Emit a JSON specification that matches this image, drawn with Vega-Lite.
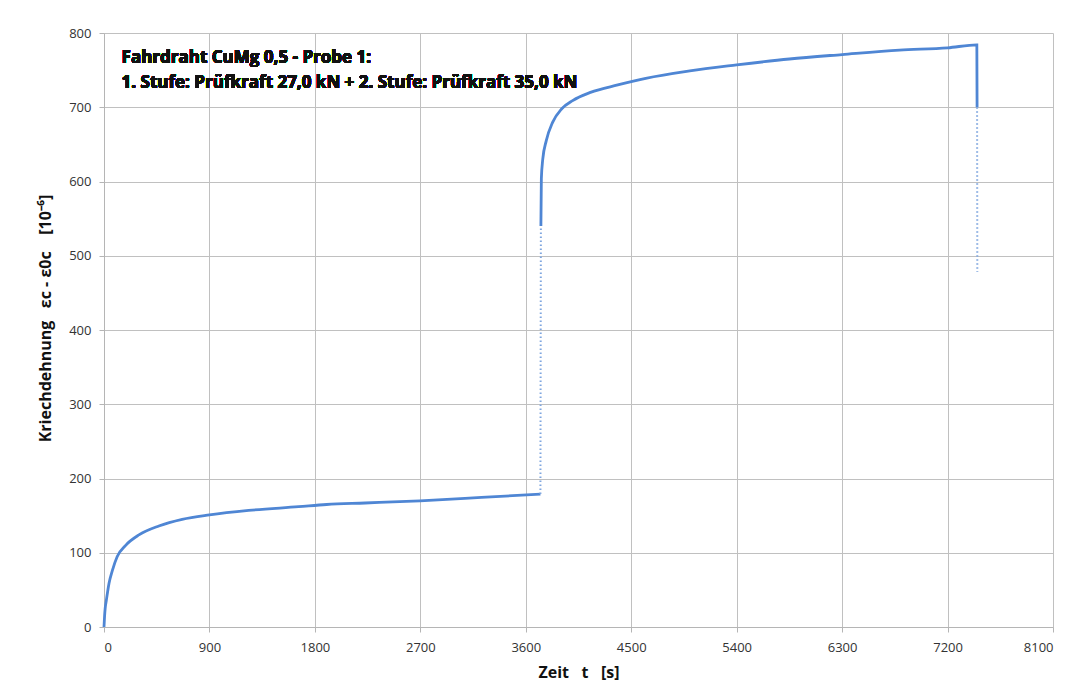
{
  "$schema": "https://vega.github.io/schema/vega-lite/v6.json",
  "autosize": {"type": "none"},
  "padding": {"left": 104, "top": 33, "right": 21, "bottom": 73},
  "width": 949,
  "height": 594,
  "background": "white",
  "config": {
    "font": "Open Sans",
    "view": {"stroke": null},
    "axis": {
      "gridColor": "#c0c0c0",
      "gridWidth": 1,
      "domainColor": "#b5b5b5",
      "tickColor": "#b5b5b5",
      "tickSize": 5,
      "labelFont": "Open Sans",
      "labelFontSize": 13,
      "labelColor": "#333333",
      "titleFont": "Open Sans",
      "titleFontSize": 16,
      "titleFontWeight": "bold",
      "titleColor": "#111111"
    }
  },
  "data": {
    "values": [
      {"part": "s1", "t": 0, "e": 0},
      {"part": "s1", "t": 5, "e": 15},
      {"part": "s1", "t": 10, "e": 25},
      {"part": "s1", "t": 20, "e": 36},
      {"part": "s1", "t": 43, "e": 59},
      {"part": "s1", "t": 71, "e": 76},
      {"part": "s1", "t": 113, "e": 95},
      {"part": "s1", "t": 185, "e": 110},
      {"part": "s1", "t": 298, "e": 124},
      {"part": "s1", "t": 468, "e": 136},
      {"part": "s1", "t": 667, "e": 145},
      {"part": "s1", "t": 900, "e": 151},
      {"part": "s1", "t": 1235, "e": 157},
      {"part": "s1", "t": 1661, "e": 162},
      {"part": "s1", "t": 1900, "e": 165},
      {"part": "s1", "t": 2229, "e": 167},
      {"part": "s1", "t": 2697, "e": 170},
      {"part": "s1", "t": 3222, "e": 174.5},
      {"part": "s1", "t": 3725, "e": 179},
      {"part": "j1", "t": 3725, "e": 179},
      {"part": "j1", "t": 3729, "e": 540},
      {"part": "s2", "t": 3729, "e": 540},
      {"part": "s2", "t": 3733, "e": 604},
      {"part": "s2", "t": 3745, "e": 630},
      {"part": "s2", "t": 3775, "e": 655},
      {"part": "s2", "t": 3830, "e": 680},
      {"part": "s2", "t": 3907, "e": 698},
      {"part": "s2", "t": 4000, "e": 709},
      {"part": "s2", "t": 4152, "e": 720},
      {"part": "s2", "t": 4385, "e": 730},
      {"part": "s2", "t": 4624, "e": 739},
      {"part": "s2", "t": 5000, "e": 749},
      {"part": "s2", "t": 5400, "e": 757},
      {"part": "s2", "t": 5850, "e": 765},
      {"part": "s2", "t": 6300, "e": 771},
      {"part": "s2", "t": 6790, "e": 777},
      {"part": "s2", "t": 7200, "e": 780},
      {"part": "s2", "t": 7450, "e": 784},
      {"part": "s2", "t": 7452, "e": 700},
      {"part": "d2", "t": 7452, "e": 700},
      {"part": "d2", "t": 7454, "e": 478}
    ]
  },
  "layer": [
    {
      "transform": [{"filter": "datum.part === 's1' || datum.part === 's2'"}],
      "mark": {"type": "line", "color": "#4f86d4", "strokeWidth": 2.8, "interpolate": "monotone"},
      "encoding": {
        "x": {
          "field": "t", "type": "quantitative",
          "scale": {"domain": [0, 8100], "nice": false},
          "axis": {"values": [0, 900, 1800, 2700, 3600, 4500, 5400, 6300, 7200, 8100], "format": "d", "labelPadding": 9, "title": "Zeit\u00a0\u00a0\u00a0t\u00a0\u00a0\u00a0[s]", "titlePadding": 10}
        },
        "y": {
          "field": "e", "type": "quantitative",
          "scale": {"domain": [0, 800], "nice": false},
          "axis": {"values": [0, 100, 200, 300, 400, 500, 600, 700, 800], "format": "d", "labelPadding": 8, "title": "Kriechdehnung\u00a0\u00a0\u00a0εc\u00a0-\u00a0ε0c\u00a0\u00a0\u00a0\u00a0[10⁻⁶]", "titlePadding": 15, "titleY": 285}
        },
        "detail": {"field": "part"}
      }
    },
    {
      "transform": [{"filter": "datum.part === 'j1' || datum.part === 'd2'"}],
      "mark": {"type": "line", "color": "#7fa6df", "strokeWidth": 2, "strokeDash": [1.5, 2.5]},
      "encoding": {
        "x": {"field": "t", "type": "quantitative"},
        "y": {"field": "e", "type": "quantitative"},
        "detail": {"field": "part"}
      }
    },
    {
      "mark": {"type": "text", "align": "left", "baseline": "top", "font": "Open Sans", "fontSize": 17, "fontWeight": "bold", "color": "#111111", "lineHeight": 25},
      "encoding": {
        "x": {"datum": 150, "type": "quantitative"},
        "y": {"datum": 777, "type": "quantitative"},
        "text": {"value": ["Fahrdraht CuMg 0,5 - Probe 1:", "1. Stufe: Prüfkraft 27,0 kN + 2. Stufe: Prüfkraft 35,0 kN"]}
      }
    }
  ]
}
